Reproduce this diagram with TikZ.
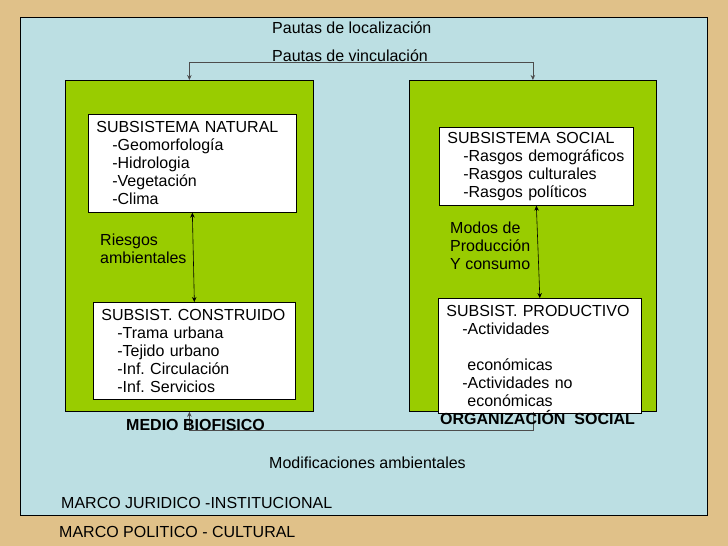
\documentclass[tikz,border=0pt]{standalone}
\usepackage{fontspec}
\setmainfont{Liberation Sans}
\usetikzlibrary{arrows.meta}
\definecolor{papyrus}{HTML}{E0C189}
\definecolor{panelblue}{HTML}{BCDFE3}
\definecolor{leafgreen}{HTML}{99CC00}
\newcommand\subind{\hspace*{16pt}}
\frenchspacing
\begin{document}
\begin{tikzpicture}[x=1pt,y=-1pt,
  font=\fontsize{16}{18}\selectfont,
  >={Stealth[length=5pt,width=4.5pt]},
  greenbox/.style={draw=black, fill=leafgreen, line width=0.8pt, inner sep=0pt, anchor=north west},
  subbox/.style={draw=black, fill=white, line width=0.7pt, inner xsep=8pt, inner ysep=0pt, align=left, anchor=north west},
  lbl/.style={inner sep=0pt, anchor=base west},
  bold/.style={lbl, font=\fontsize{16}{18}\selectfont\bfseries},
  link/.style={draw=black!70, line width=0.8pt},
  dbl/.style={draw=black, line width=0.6pt, <->}
]
\useasboundingbox (0,0) rectangle (728,546);
\fill[papyrus] (0,0) rectangle (728,546);
\node[draw=black, fill=panelblue, line width=0.8pt, inner sep=0pt, anchor=north west,
      minimum width=687pt, minimum height=498pt] (panel) at (20,17) {};

\node[greenbox, minimum width=248pt, minimum height=331pt] (medio) at (65,80) {};
\node[greenbox, minimum width=247pt, minimum height=331pt] (org) at (409,80) {};

\node[subbox, text width=192pt, minimum height=98pt] (nat) at (88,114)
  {SUBSISTEMA NATURAL\\\subind-Geomorfología\\\subind-Hidrologia\\\subind-Vegetación\\\subind-Clima};
\node[subbox, text width=186pt, minimum height=97pt] (con) at (93,302)
  {SUBSIST. CONSTRUIDO\\\subind-Trama urbana\\\subind-Tejido urbano\\\subind-Inf. Circulación\\\subind-Inf. Servicios};
\node[subbox, text width=178pt, minimum height=78pt] (soc) at (439,127)
  {SUBSISTEMA SOCIAL\\\subind-Rasgos demográficos\\\subind-Rasgos culturales\\\subind-Rasgos políticos};
\node[subbox, text width=187pt, minimum height=115pt] (prod) at (438,298)
  {SUBSIST. PRODUCTIVO\\\subind-Actividades\\[18pt]\hspace*{21pt}económicas\\\subind-Actividades no\\\hspace*{21pt}económicas};

\draw[dbl] (nat.south) -- (con.north);
\draw[dbl] (soc.south) -- (prod.north);

\draw[link, <->] (medio.north) -- ++(0,-18) -| (org.north);
\draw[link, <-] (medio.south) -- ++(0,19) -| (org.south);

\node[lbl] (ploc) at (272,33) {Pautas de localización};
\node[lbl] (pvin) at (272,61) {Pautas de vinculación};
\node[lbl] (ries1) at (100,245) {Riesgos};
\node[lbl] (ries2) at (100,263) {ambientales};
\node[lbl] (modos1) at (450,233) {Modos de};
\node[lbl] (modos2) at (450,251) {Producción};
\node[lbl] (modos3) at (450,269) {Y consumo};
\node[bold] (mbio) at (126,430) {MEDIO BIOFISICO};
\node[bold] (osoc) at (440,424) {ORGANIZACIÓN\ \ SOCIAL};
\node[lbl] (modif) at (269,468) {Modificaciones ambientales};
\node[lbl] (mjur) at (61,508.5) {MARCO JURIDICO -INSTITUCIONAL};
\node[lbl] (mpol) at (59,537) {MARCO POLITICO - CULTURAL};
\end{tikzpicture}
\end{document}
